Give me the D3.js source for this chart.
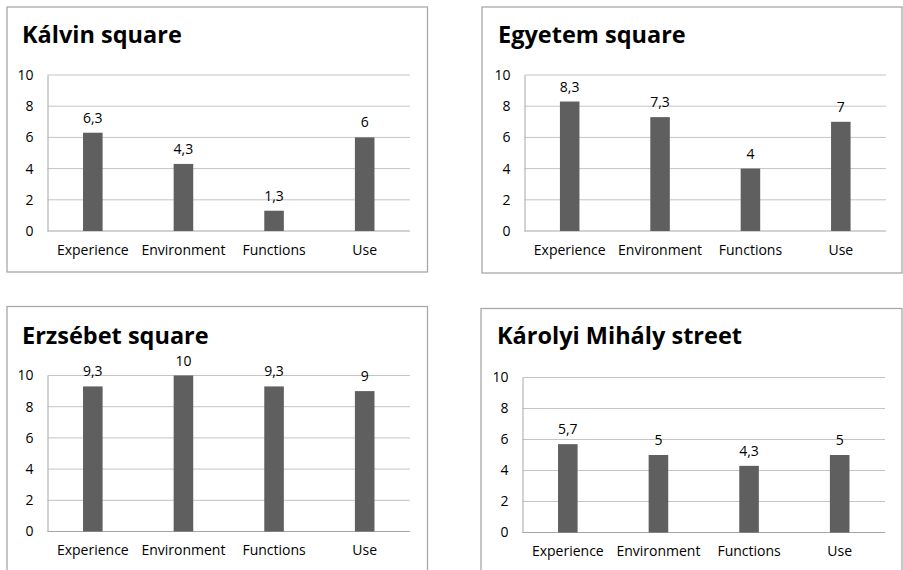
<!DOCTYPE html>
<html>
<head>
<meta charset="utf-8">
<script src="https://cdn.jsdelivr.net/npm/d3@7"></script>
<style>
  body { margin: 0; background: #fff; }
  svg { display: block; font-family: "Open Sans", sans-serif; }
</style>
</head>
<body>
<div id="graph"></div>
<script>
// Data
const CATEGORIES = ["Experience", "Environment", "Functions", "Use"];
const TITLES = ["Kálvin square", "Egyetem square", "Erzsébet square", "Károlyi Mihály street"];
const KALVIN = [6.3, 4.3, 1.3, 6];
const EGYETEM = [8.3, 7.3, 4, 7];
const ERZSEBET = [9.3, 10, 9.3, 9];
const KAROLYI = [5.7, 5, 4.3, 5];
const Y_TICKS = [0, 2, 4, 6, 8, 10];

// Layout of every panel (box, plot area, title position)
const LAYOUT = [
  { box: [7, 7, 427.5, 272], plot: [47.5, 410, 75, 231], titlePos: [22, 43] },
  { box: [482, 7, 902, 273], plot: [524.5, 886, 75, 231], titlePos: [498, 43] },
  { box: [7, 306.5, 427.5, 580], plot: [47.5, 410, 375.5, 531.5], titlePos: [22, 344] },
  { box: [481, 308.5, 902, 580], plot: [522.5, 885, 377.5, 532.5], titlePos: [497, 344] },
];

const panels = [KALVIN, EGYETEM, ERZSEBET, KAROLYI].map((values, i) => ({
  title: TITLES[i],
  values: values,
  ...LAYOUT[i],
}));

const SVG = d3
  .select("#graph")
  .append("svg")
  .attr("width", 903)
  .attr("height", 570);

const fmt = (v) => String(v).replace(".", ",");
const FONT = 14;

panels.forEach((p) => {
  const g = SVG.append("g");
  const [bx0, by0, bx1, by1] = p.box;
  const [px0, px1, py10, py0] = p.plot;

  // frame
  g.append("rect")
    .attr("x", bx0)
    .attr("y", by0)
    .attr("width", bx1 - bx0)
    .attr("height", by1 - by0)
    .attr("fill", "#fff")
    .attr("stroke", "#a8a8a8")
    .attr("stroke-width", 1.3);

  g.append("text")
    .attr("x", p.titlePos[0])
    .attr("y", p.titlePos[1])
    .attr("font-size", 23.5)
    .attr("font-weight", "bold")
    .attr("fill", "#000")
    .text(p.title);

  const x = d3.scaleBand().domain(CATEGORIES).range([px0, px1]);
  const y = d3.scaleLinear().domain([0, 10]).range([py0, py10]);

  // gridlines
  g.selectAll(".grid")
    .data(Y_TICKS)
    .join("line")
    .attr("x1", px0)
    .attr("x2", px1)
    .attr("y1", (d) => y(d))
    .attr("y2", (d) => y(d))
    .attr("stroke", (d) => (d === 0 ? "#a6a6a6" : "#c4c4c4"))
    .attr("stroke-width", 1);

  // y axis
  const yas = d3.axisLeft(y).tickValues(Y_TICKS).tickSize(0).tickPadding(14);
  g.append("g")
    .attr("transform", `translate(${px0}, 0)`)
    .call(yas)
    .call((a) => a.select(".domain").attr("stroke", "#a6a6a6"))
    .call((a) =>
      a.selectAll("text").attr("font-size", FONT).attr("fill", "#000").attr("font-family", "Open Sans")
    );

  // x axis labels
  const xas = d3.axisBottom(x).tickSize(0).tickPadding(14);
  g.append("g")
    .attr("transform", `translate(0, ${py0})`)
    .call(xas)
    .call((a) => a.select(".domain").remove())
    .call((a) =>
      a.selectAll("text").attr("font-size", FONT).attr("fill", "#000").attr("font-family", "Open Sans")
    );

  const data = CATEGORIES.map((c, i) => ({ cat: c, val: p.values[i] }));
  const bw = x.bandwidth() * 0.216;

  g.selectAll(".bar")
    .data(data)
    .join("rect")
    .attr("x", (d) => x(d.cat) + x.bandwidth() / 2 - bw / 2)
    .attr("width", bw)
    .attr("y", (d) => y(d.val))
    .attr("height", (d) => y(0) - y(d.val))
    .attr("fill", "#5f5f5f");

  g.selectAll(".lbl")
    .data(data)
    .join("text")
    .attr("x", (d) => x(d.cat) + x.bandwidth() / 2)
    .attr("y", (d) => y(d.val) - 10)
    .attr("text-anchor", "middle")
    .attr("font-size", FONT)
    .attr("fill", "#000")
    .text((d) => fmt(d.val));
});
</script>
</body>
</html>
